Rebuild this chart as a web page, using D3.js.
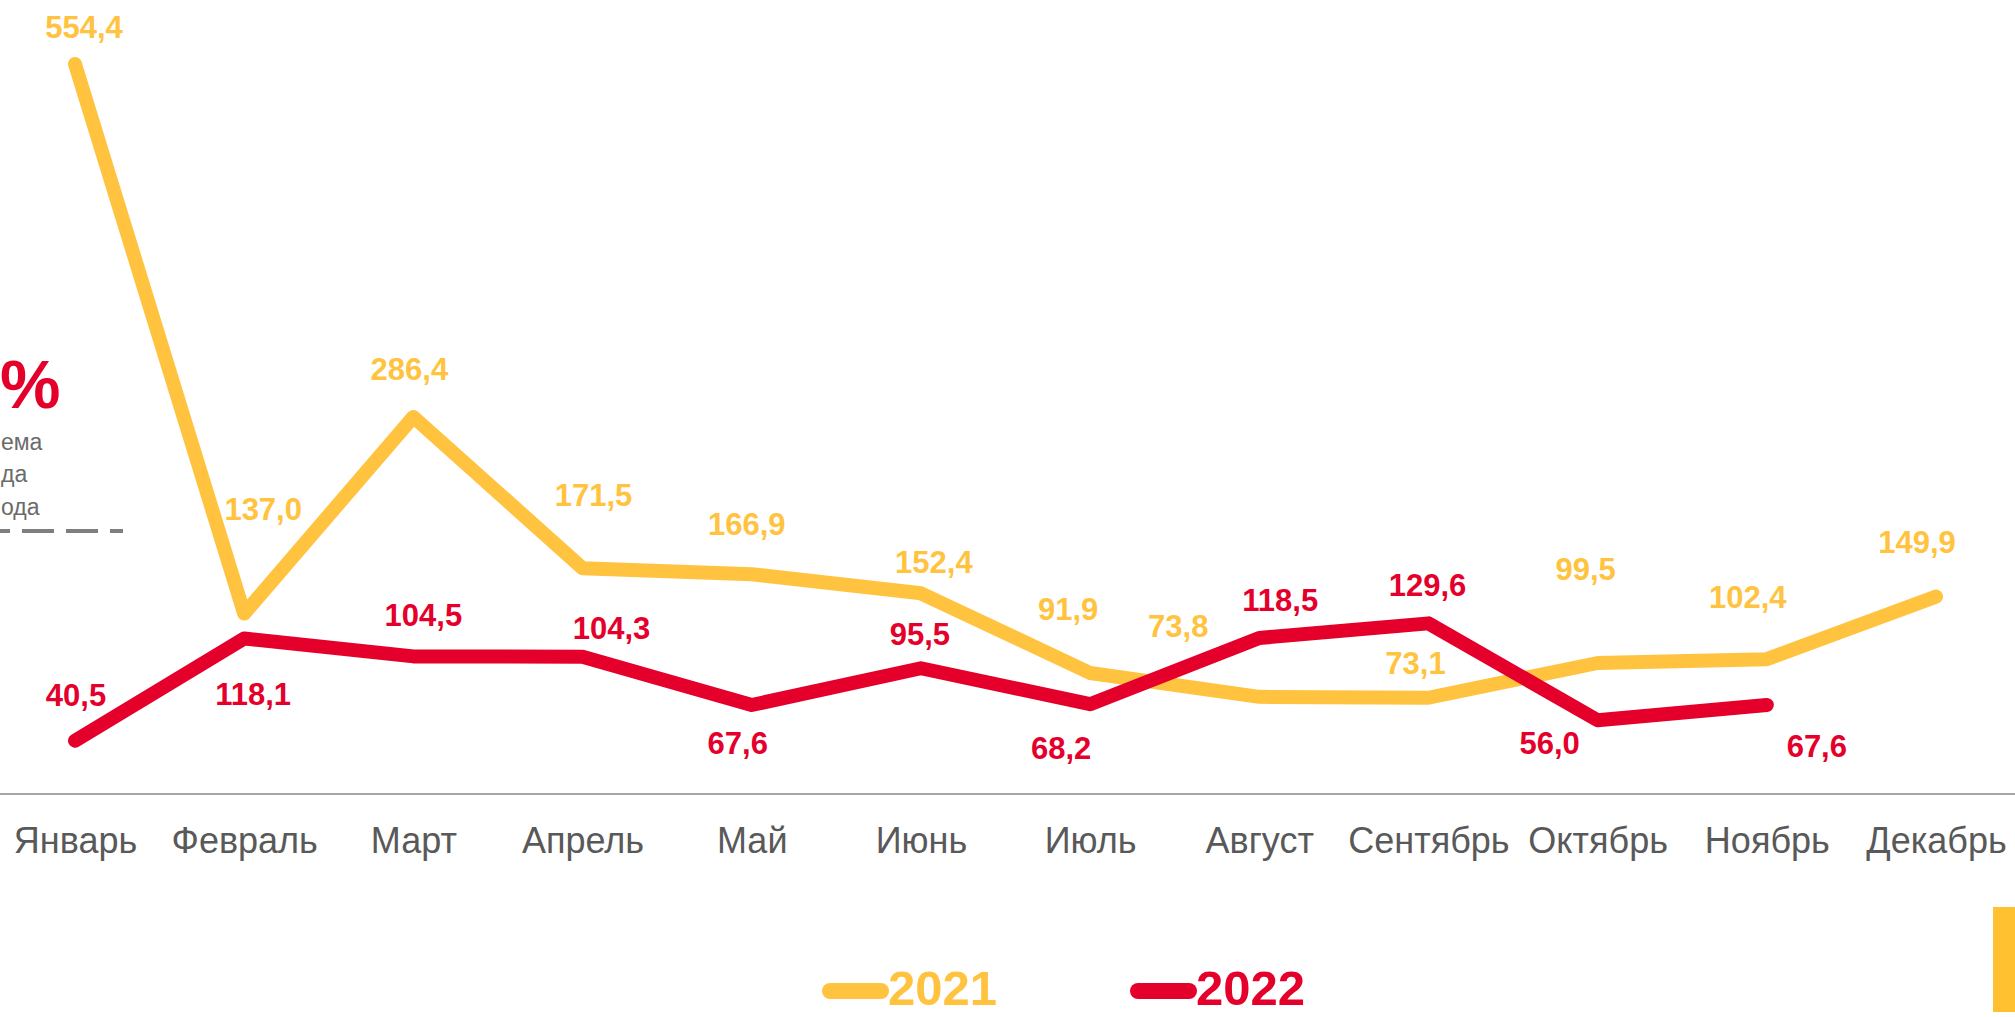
<!DOCTYPE html>
<html>
<head>
<meta charset="utf-8">
<script src="https://cdn.jsdelivr.net/npm/d3@7"></script>
<style>
  html, body { margin: 0; padding: 0; background: #fff; overflow: hidden; }
  svg { display: block; font-family: "Liberation Sans", Arial, sans-serif; }
</style>
</head>
<body>
<div id="chart"></div>
<script>
// data
const months = ["Январь", "Февраль", "Март", "Апрель", "Май", "Июнь",
  "Июль", "Август", "Сентябрь", "Октябрь", "Ноябрь", "Декабрь"];
const values2021 = [554.4, 137.0, 286.4, 171.5, 166.9, 152.4, 91.9, 73.8, 73.1, 99.5, 102.4, 149.9];
const values2022 = [40.5, 118.1, 104.5, 104.3, 67.6, 95.5, 68.2, 118.5, 129.6, 56.0, 67.6];
const seriesNames = ["2021", "2022"];

// label nudges (dx, dy from the point), hand placed like the original slide
const nudge2021 = [[9, -26], [19, -94], [-4, -37], [11, -62], [-5, -39], [13, -20],
  [-22, -53], [-81, -60], [-13, -24], [-12, -83], [-19, -51], [-19, -44]];
const nudge2022 = [[1, -35], [9, 67], [10, -30], [29, -18], [-14, 49], [-1, -23],
  [-29, 55], [21, -27], [-1, -27], [-48, 34], [50, 52]];

const W = 2015, H = 1017;
const yellow = "#FFC340", red = "#E4002B";

const svg = d3.select("#chart").append("svg")
  .attr("width", W).attr("height", H);

const x = d3.scalePoint().domain(months).range([75, 1936]);
const y = d3.scaleLinear().domain([0, 603]).range([794, 0]);

const locale = d3.formatLocale({ decimal: ",", thousands: " ", grouping: [3], currency: ["", ""] });
const fmt = locale.format(".1f");

// *baseline
svg.append("line")
  .attr("x1", 0).attr("x2", W)
  .attr("y1", y(0)).attr("y2", y(0))
  .attr("stroke", "#A6A6A6").attr("stroke-width", 2);

// *month labels
const xAxis = svg.append("g")
  .attr("transform", "translate(0," + y(0) + ")")
  .call(d3.axisBottom(x).tickSize(0));
xAxis.select(".domain").remove();
xAxis.selectAll("text")
  .attr("y", 59).attr("dy", 0)
  .attr("fill", "#595959")
  .style("font-family", "'Liberation Sans', Arial, sans-serif")
  .style("font-size", "36px");

// *lines
const line = d3.line()
  .x(function (d) { return x(d.month); })
  .y(function (d) { return y(d.value); });

const series = [
  { name: seriesNames[0], color: yellow, values: values2021, nudge: nudge2021 },
  { name: seriesNames[1], color: red, values: values2022, nudge: nudge2022 },
];

series.forEach(function (s) {
  const pts = s.values.map(function (v, i) { return { month: months[i], value: v, i: i }; });

  svg.append("path")
    .datum(pts)
    .attr("fill", "none")
    .attr("stroke", s.color)
    .attr("stroke-width", 14)
    .attr("stroke-linejoin", "round")
    .attr("stroke-linecap", "round")
    .attr("d", line);

  s.pts = pts;
});

// labels drawn after both lines
series.forEach(function (s) {
  svg.append("g").selectAll("text")
    .data(s.pts)
    .enter()
    .append("text")
    .attr("x", function (d) { return x(d.month) + s.nudge[d.i][0]; })
    .attr("y", function (d) { return y(d.value) + s.nudge[d.i][1]; })
    .attr("text-anchor", "middle")
    .attr("fill", s.color)
    .style("font-size", "31px")
    .style("font-weight", "bold")
    .text(function (d) { return fmt(d.value); });
});

// *left side note (only its tail shows at the slide edge)
svg.append("text")
  .attr("x", 0).attr("y", 408)
  .attr("fill", red)
  .style("font-size", "68px")
  .style("font-weight", "bold")
  .text("%");

const note = [["ема", 450], ["да", 482], ["ода", 515]];
svg.append("g").selectAll("text")
  .data(note)
  .enter()
  .append("text")
  .attr("x", 1)
  .attr("y", function (d) { return d[1]; })
  .attr("fill", "#6B6B6B")
  .style("font-size", "23px")
  .text(function (d) { return d[0]; });

svg.append("line")
  .attr("x1", -22).attr("x2", 123)
  .attr("y1", 531).attr("y2", 531)
  .attr("stroke", "#7F7F7F")
  .attr("stroke-width", 4)
  .attr("stroke-dasharray", "32,12");

// *legend
const legendX = [830, 1138];
series.forEach(function (s, i) {
  svg.append("line")
    .attr("x1", legendX[i]).attr("x2", legendX[i] + 51)
    .attr("y1", 991).attr("y2", 991)
    .attr("stroke", s.color)
    .attr("stroke-width", 16)
    .attr("stroke-linecap", "round");
  svg.append("text")
    .attr("x", legendX[i] + 58).attr("y", 1005)
    .attr("fill", s.color)
    .style("font-size", "49px")
    .style("font-weight", "bold")
    .text(s.name);
});

// *slide accent block at right edge
svg.append("rect")
  .attr("x", 1993).attr("y", 907)
  .attr("width", 22).attr("height", 105)
  .attr("fill", "#FFC12F");
</script>
</body>
</html>
